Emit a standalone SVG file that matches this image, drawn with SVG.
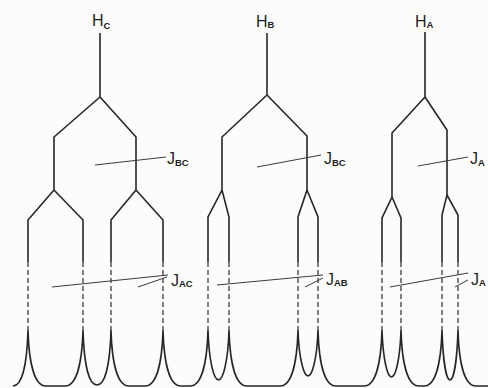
<svg xmlns="http://www.w3.org/2000/svg" width="488" height="388" viewBox="0 0 488 388">
<style>
.tree{fill:none;stroke:#262626;stroke-width:1.6;stroke-linejoin:miter}
.dash{fill:none;stroke:#4a4a4a;stroke-width:1.4;stroke-dasharray:5 3}
.jl{fill:none;stroke:#3a3a3a;stroke-width:1}
.spec{fill:none;stroke:#262626;stroke-width:1.6}
text{font-family:"Liberation Sans",Arial,sans-serif;fill:#1e1e1e;font-size:16px}
.sub{font-size:9.5px;font-weight:bold}
</style>
<rect width="488" height="388" fill="#fcfcfa"/>
<g id="multiplet-C">
<path class="tree" d="M100,33 V97 L54,137 V190 L28,220 V262 M54,190 L83,220 V262 M100,97 L136,137 V190 L111,220 V262 M136,190 L163,220 V262"/>
<path class="dash" d="M28,262 V330 M83,262 V330 M111,262 V330 M163,262 V330"/>
<text x="92" y="26">H<tspan class="sub" dy="3">C</tspan></text>
</g>
<g id="multiplet-B">
<path class="tree" d="M267,33 V95 L222,137 V190 L208,217 V262 M222,190 L229,217 V262 M267,95 L307,136 V190 L298,217 V262 M307,190 L318,217 V262"/>
<path class="dash" d="M208,262 V330 M229,262 V330 M298,262 V330 M318,262 V330"/>
<text x="256" y="27">H<tspan class="sub" dy="1">B</tspan></text>
</g>
<g id="multiplet-A">
<path class="tree" d="M425,32 V97 L392,133 V197 L382,218 V262 M392,197 L401,218 V262 M425,97 L447,130 V195 L442,215 V262 M447,195 L458,215 V262"/>
<path class="dash" d="M382,262 V330 M401,262 V330 M442,262 V330 M458,262 V330"/>
<text x="415" y="27">H<tspan class="sub" dy="1">A</tspan></text>
</g>
<g id="connectors">
<path class="jl" d="M95,165 L166,157"/>
<path class="jl" d="M257,167 L321,155"/>
<path class="jl" d="M418,166 L468,157"/>
<path class="jl" d="M52,287 L168,275 M138,287 L167,277"/>
<path class="jl" d="M217,285 L323,275 M305,287 L323,278"/>
<path class="jl" d="M390,287 L468,273 M455,287 L468,280"/>
</g>
<g id="labels">
<text x="167" y="164">J<tspan class="sub" dy="2">BC</tspan></text>
<text x="324" y="164">J<tspan class="sub" dy="2">BC</tspan></text>
<text x="470" y="164">J<tspan class="sub" dy="2">A</tspan></text>
<text x="171" y="286">J<tspan class="sub" dy="1">AC</tspan></text>
<text x="326" y="285">J<tspan class="sub" dy="1">AB</tspan></text>
<text x="471" y="285">J<tspan class="sub" dy="1">A</tspan></text>
</g>
<g id="spectrum">
<path class="spec" d="M13,386 C22,386 27,365 28,330 C29,365 35,386 46,386 L65,386 C76,386 82,365 83,330 C84,365 89,385 97,385 C105,385 110,365 111,330 C112,365 118,386 129,386 L145,386 C156,386 162,365 163,330 C164,365 170,386 181,386 L190,386 C201,386 207,365 208,330 C209,362 214,380 218.5,380 C223,380 228,362 229,330 C230,365 236,386 247,386 L280,386 C291,386 297,365 298,330 C299,360 304,376 308,376 C312,376 317,360 318,330 C319,365 325,386 336,386 L364,386 C375,386 381,365 382,330 C383,360 387.5,377 391.5,377 C395.5,377 400,360 401,330 C402,365 408,386 419,386 L424,386 C435,386 441,365 442,330 C443,362 446.5,380 450,380 C453.5,380 457,362 458,330 C459,365 465,386 476,386 L488,386"/>
</g>
</svg>
